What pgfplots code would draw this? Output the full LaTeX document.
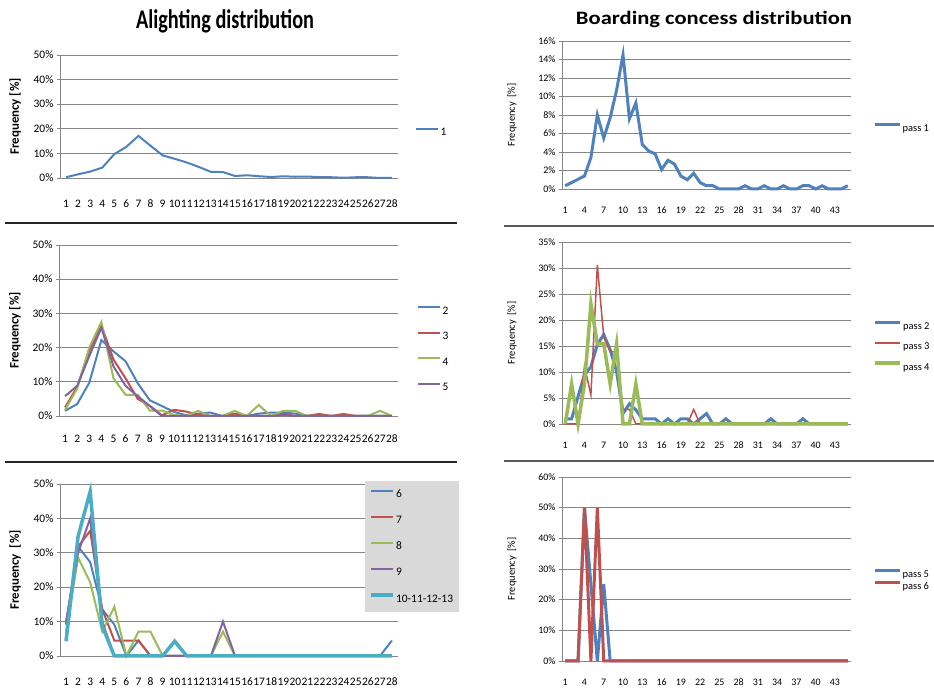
\documentclass[border=0pt]{standalone}
\usepackage{graphicx}
\usepackage{pgfplots}
\pgfplotsset{compat=1.18}
\usepackage{fontspec}
\setmainfont{Carlito}

\definecolor{xblue}{RGB}{79,129,189}
\definecolor{xred}{RGB}{192,80,77}
\definecolor{xgreen}{RGB}{155,187,89}
\definecolor{xpurple}{RGB}{128,100,162}
\definecolor{xcyan}{RGB}{75,172,198}
\definecolor{gridc}{RGB}{134,134,134}
\definecolor{legfill}{RGB}{217,217,217}

\pgfplotsset{
 excel/.style={
   scale only axis, anchor=south west, clip=false,
   xmin=0.5, ymin=0,
   axis x line*=bottom, axis y line*=left,
   axis line style={-, draw=gridc, line width=0.8bp},
   ymajorgrids, major grid style={draw=gridc, line width=0.8bp},
   tick align=outside, major tick length=3bp,
   xtick style={draw=none}, ytick style={draw=gridc, line width=0.8bp},
   /pgf/number format/assume math mode=true,
   legend cell align=left,
   legend image code/.code={\draw[##1] (0bp,3.5bp) -- (22bp,3.5bp);},
   legend style={draw=none, fill=none, anchor=north west, inner sep=0pt,
     nodes={inner sep=1.5bp, text height=7bp, text depth=0bp}},
 },
 leftp/.style={excel, xmax=28.5, ymax=50, xtick={1,...,28},
   ytick={0,10,...,50}, yticklabels={0\%,10\%,20\%,30\%,40\%,50\%},
   ticklabel style={font=\fontsize{11.5}{12}\selectfont, text height=7.5bp, text depth=0bp},
   ylabel style={font=\fontsize{13}{14}\selectfont\bfseries, anchor=center},
   legend style={font=\fontsize{11.5}{12}\selectfont},
   every axis plot/.append style={line width=2bp},
 },
 rightp/.style={excel, width=289bp, xmax=45.5, xtick={1,4,...,43},
   ticklabel style={font=\fontsize{10}{11}\selectfont, text height=6.5bp, text depth=0bp},
   xticklabel style={yshift=-11bp},
   ylabel={Frequency\ \ [\%]},
   ylabel style={font=\fontsize{10.5}{11}\selectfont, anchor=center, at={(axis description cs:-0.173,0.5)}},
   legend style={font=\fontsize{10.5}{11}\selectfont},
   legend image code/.code={\draw[##1] (0bp,3.5bp) -- (25bp,3.5bp);},
 },
}

\begin{document}
\begin{tikzpicture}[x=1bp,y=1bp]
\useasboundingbox (0,0) rectangle (934,691);

% titles
\node[anchor=base] at (225,662) {\resizebox{178bp}{\height}{\fontsize{27}{29}\selectfont\bfseries Alighting distribution}};
\node[anchor=base] at (714,666) {\resizebox{276bp}{\height}{\fontsize{19}{21}\selectfont\bfseries Boarding concess distribution}};

% separators
\draw[line width=2bp, black!85] (5,468) -- (457,468);
\draw[line width=2bp, black!85] (5,229) -- (457,229);
\draw[line width=2bp, black!65] (504,465) -- (934,465);
\draw[line width=2bp, black!65] (504,230) -- (934,230);

% ---------- Panel 1
\begin{axis}[leftp, at={(60bp,513bp)}, width=338bp, height=123bp,
  xticklabel style={yshift=-15bp},
  ylabel={Frequency [\%]}, ylabel style={at={(axis description cs:-0.133,0.5)}},
  legend style={at={(axis description cs:1.05,0.415)}}]
\addplot[xblue] coordinates {(1,0.3)(2,1.5)(3,2.6)(4,4.2)(5,9.7)(6,12.7)(7,17.1)(8,13.1)(9,9.2)(10,7.8)(11,6.3)(12,4.5)(13,2.5)(14,2.4)(15,0.8)(16,1.1)(17,0.7)(18,0.4)(19,0.7)(20,0.5)(21,0.6)(22,0.3)(23,0.3)(24,0.1)(25,0.3)(26,0.3)(27,0)(28,0)};
\addlegendentry{1}
\end{axis}

% ---------- Panel 2
\begin{axis}[leftp, at={(59bp,275bp)}, width=339bp, height=171bp,
  xticklabel style={yshift=-12bp},
  ylabel={Frequency [\%]}, ylabel style={at={(axis description cs:-0.13,0.5)}},
  legend style={at={(axis description cs:1.056,0.645)}, row sep=15.5bp}]
\addplot[xblue] coordinates {(1,1.5)(2,3.5)(3,9.7)(4,22.2)(5,18.9)(6,16)(7,9.6)(8,4.6)(9,2.9)(10,1.2)(11,0.2)(12,0.7)(13,1)(14,0)(15,0)(16,0)(17,0.7)(18,1)(19,1)(20,0.7)(21,0.1)(22,0)(23,0)(24,0)(25,0)(26,0)(27,0)(28,0)};
\addlegendentry{2}
\addplot[xred] coordinates {(1,2.5)(2,8.5)(3,19)(4,26.5)(5,16.5)(6,11)(7,5)(8,3)(9,0.2)(10,1.8)(11,1.3)(12,0.3)(13,0)(14,0)(15,0.7)(16,0)(17,0)(18,0)(19,0.7)(20,0)(21,0)(22,0.6)(23,0)(24,0.6)(25,0)(26,0)(27,0)(28,0)};
\addlegendentry{3}
\addplot[xgreen] coordinates {(1,1.8)(2,8)(3,20)(4,27.5)(5,11)(6,6.2)(7,6.2)(8,1.6)(9,1.6)(10,0.3)(11,0)(12,1.5)(13,0)(14,0)(15,1.5)(16,0)(17,3.2)(18,0)(19,1.5)(20,1.5)(21,0)(22,0)(23,0)(24,0)(25,0)(26,0)(27,1.5)(28,0)};
\addlegendentry{4}
\addplot[xpurple] coordinates {(1,5.8)(2,8.8)(3,17.5)(4,25.8)(5,14.5)(6,8.8)(7,5.8)(8,2.9)(9,0)(10,0)(11,0)(12,0)(13,0)(14,0)(15,0)(16,0)(17,0)(18,0)(19,0.3)(20,0)(21,0)(22,0)(23,0)(24,0)(25,0)(26,0)(27,0)(28,0)};
\addlegendentry{5}
\end{axis}

% ---------- Panel 3
\begin{axis}[leftp, at={(60bp,35bp)}, width=338bp, height=172bp,
  xticklabel style={yshift=-15bp},
  ylabel={Frequency\ \ [\%]}, ylabel style={at={(axis description cs:-0.133,0.5)}},
  legend style={at={(axis description cs:0.902,1.017)},
    fill=legfill, inner xsep=4bp, inner ysep=8bp, row sep=16bp}]
\addplot[xblue] coordinates {(1,9.5)(2,31.8)(3,27.3)(4,13.6)(5,9.1)(6,0)(7,4.5)(8,0)(9,0)(10,0)(11,0)(12,0)(13,0)(14,0)(15,0)(16,0)(17,0)(18,0)(19,0)(20,0)(21,0)(22,0)(23,0)(24,0)(25,0)(26,0)(27,0)(28,4.5)};
\addlegendentry{6}
\addplot[xred] coordinates {(1,9.1)(2,31.8)(3,36.4)(4,13.6)(5,4.5)(6,4.5)(7,4.5)(8,0)(9,0)(10,0)(11,0)(12,0)(13,0)(14,0)(15,0)(16,0)(17,0)(18,0)(19,0)(20,0)(21,0)(22,0)(23,0)(24,0)(25,0)(26,0)(27,0)(28,0)};
\addlegendentry{7}
\addplot[xgreen] coordinates {(1,7.1)(2,28.6)(3,21.4)(4,7.1)(5,14.3)(6,0)(7,7.1)(8,7.1)(9,0)(10,0)(11,0)(12,0)(13,0)(14,7.1)(15,0)(16,0)(17,0)(18,0)(19,0)(20,0)(21,0)(22,0)(23,0)(24,0)(25,0)(26,0)(27,0)(28,0)};
\addlegendentry{8}
\addplot[xpurple] coordinates {(1,10)(2,30)(3,40)(4,10)(5,0)(6,0)(7,0)(8,0)(9,0)(10,0)(11,0)(12,0)(13,0)(14,10)(15,0)(16,0)(17,0)(18,0)(19,0)(20,0)(21,0)(22,0)(23,0)(24,0)(25,0)(26,0)(27,0)(28,0)};
\addlegendentry{9}
\addplot[xcyan, line width=3.5bp] coordinates {(1,4.3)(2,34.8)(3,47.8)(4,8.7)(5,0)(6,0)(7,0)(8,0)(9,0)(10,4.3)(11,0)(12,0)(13,0)(14,0)(15,0)(16,0)(17,0)(18,0)(19,0)(20,0)(21,0)(22,0)(23,0)(24,0)(25,0)(26,0)(27,0)(28,0)};
\addlegendentry{10-11-12-13}
\end{axis}

% ---------- Panel 4
\begin{axis}[rightp, at={(562bp,502bp)}, height=148bp, ymax=16,
  ytick={0,2,...,16}, yticklabels={0\%,2\%,4\%,6\%,8\%,10\%,12\%,14\%,16\%},
  legend style={at={(axis description cs:1.076,0.45)}}]
\addplot[xblue, line width=3bp] coordinates {(1,0.35)(2,0.7)(3,1.05)(4,1.4)(5,3.4)(6,8.0)(7,5.5)(8,7.7)(9,10.7)(10,14.5)(11,7.6)(12,9.3)(13,4.8)(14,4.1)(15,3.8)(16,2.1)(17,3.1)(18,2.7)(19,1.4)(20,1.0)(21,1.7)(22,0.7)(23,0.35)(24,0.35)(25,0)(26,0)(27,0)(28,0)(29,0.35)(30,0)(31,0)(32,0.35)(33,0)(34,0)(35,0.35)(36,0)(37,0)(38,0.35)(39,0.35)(40,0)(41,0.35)(42,0)(43,0)(44,0)(45,0.35)};
\addlegendentry{pass 1}
\end{axis}

% ---------- Panel 5
\begin{axis}[rightp, at={(562bp,267bp)}, height=182bp, ymax=35,
  ytick={0,5,...,35}, yticklabels={0\%,5\%,10\%,15\%,20\%,25\%,30\%,35\%},
  legend style={at={(axis description cs:1.076,0.565)}, row sep=10bp}]
\addplot[xblue, line width=3bp] coordinates {(1,1)(2,1)(3,5.3)(4,9.5)(5,11)(6,15.3)(7,17.2)(8,14.3)(9,10.1)(10,2)(11,3.9)(12,2.7)(13,1)(14,1)(15,1)(16,0)(17,1)(18,0)(19,1)(20,1)(21,0)(22,1)(23,2)(24,0)(25,0)(26,1)(27,0)(28,0)(29,0)(30,0)(31,0)(32,0)(33,1)(34,0)(35,0)(36,0)(37,0)(38,1)(39,0)(40,0)(41,0)(42,0)(43,0)(44,0)(45,0)};
\addlegendentry{pass 2}
\addplot[xred, line width=1.5bp] coordinates {(1,0)(2,0)(3,0)(4,11.1)(5,5.6)(6,30.6)(7,16.7)(8,13.9)(9,13.9)(10,2.8)(11,2.8)(12,0)(13,0)(14,0)(15,0)(16,0)(17,0)(18,0)(19,0)(20,0)(21,2.8)(22,0)(23,0)(24,0)(25,0)(26,0)(27,0)(28,0)(29,0)(30,0)(31,0)(32,0)(33,0)(34,0)(35,0)(36,0)(37,0)(38,0)(39,0)(40,0)(41,0)(42,0)(43,0)(44,0)(45,0)};
\addlegendentry{pass 3}
\addplot[xgreen, line width=3.5bp] coordinates {(1,0)(2,7.7)(3,0)(4,7.7)(5,23.1)(6,15.4)(7,15.4)(8,7.7)(9,15.4)(10,0)(11,0)(12,7.7)(13,0)(14,0)(15,0)(16,0)(17,0)(18,0)(19,0)(20,0)(21,0)(22,0)(23,0)(24,0)(25,0)(26,0)(27,0)(28,0)(29,0)(30,0)(31,0)(32,0)(33,0)(34,0)(35,0)(36,0)(37,0)(38,0)(39,0)(40,0)(41,0)(42,0)(43,0)(44,0)(45,0)};
\addlegendentry{pass 4}
\end{axis}

% ---------- Panel 6
\begin{axis}[rightp, at={(562bp,30bp)}, height=184bp, ymax=60,
  ytick={0,10,...,60}, yticklabels={0\%,10\%,20\%,30\%,40\%,50\%,60\%},
  legend style={at={(axis description cs:1.076,0.50)}, row sep=2bp}]
\addplot[xblue, line width=3bp] coordinates {(1,0)(2,0)(3,0)(4,50)(5,25)(6,0)(7,25)(8,0)(9,0)(10,0)(11,0)(12,0)(13,0)(14,0)(15,0)(16,0)(17,0)(18,0)(19,0)(20,0)(21,0)(22,0)(23,0)(24,0)(25,0)(26,0)(27,0)(28,0)(29,0)(30,0)(31,0)(32,0)(33,0)(34,0)(35,0)(36,0)(37,0)(38,0)(39,0)(40,0)(41,0)(42,0)(43,0)(44,0)(45,0)};
\addlegendentry{pass 5}
\addplot[xred, line width=3bp] coordinates {(1,0)(2,0)(3,0)(4,50)(5,0)(6,50)(7,0)(8,0)(9,0)(10,0)(11,0)(12,0)(13,0)(14,0)(15,0)(16,0)(17,0)(18,0)(19,0)(20,0)(21,0)(22,0)(23,0)(24,0)(25,0)(26,0)(27,0)(28,0)(29,0)(30,0)(31,0)(32,0)(33,0)(34,0)(35,0)(36,0)(37,0)(38,0)(39,0)(40,0)(41,0)(42,0)(43,0)(44,0)(45,0)};
\addlegendentry{pass 6}
\end{axis}
\end{tikzpicture}
\end{document}
